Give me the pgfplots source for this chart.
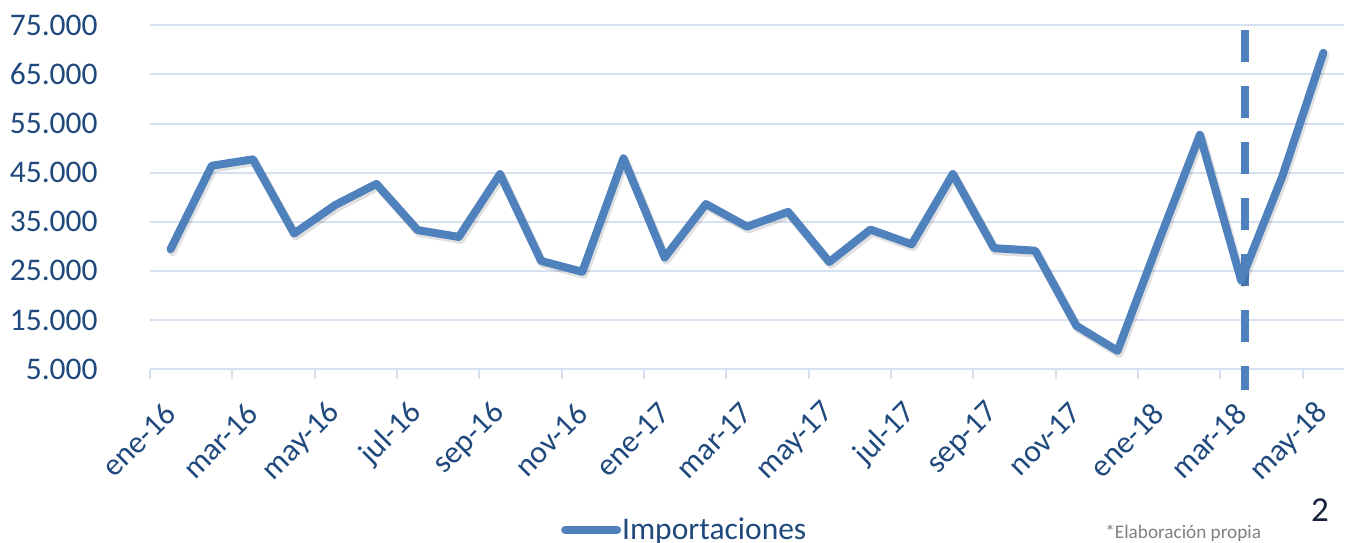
\documentclass[border=0pt]{standalone}
\usepackage{fontspec}
\setmainfont{Carlito}
\usepackage{pgfplots}
\pgfplotsset{compat=1.18}
\definecolor{serie}{HTML}{4F81BD}
\definecolor{gridc}{HTML}{D6E0F0}
\definecolor{lab}{HTML}{1F497D}
\definecolor{navy}{HTML}{17233C}
\newcommand{\lbl}{\fontsize{15.75}{18}\selectfont}
\begin{document}
\begin{tikzpicture}
\path[use as bounding box] (0,0) rectangle (674pt,271pt);
\begin{axis}[
  at={(75pt,86.5pt)}, anchor=south west,
  scale only axis, width=597pt, height=171.85pt,
  xmin=-0.5, xmax=28.5, ymin=5000, ymax=75000,
  clip=false,
  separate axis lines,
  axis x line*=bottom,
  axis y line*=left,
  y axis line style={draw=none},
  x axis line style={gridc, line width=1pt, -},
  ytick={5000,15000,...,75000},
  ymajorgrids, grid style={gridc, line width=1pt},
  major tick length=0pt,
  ytick style={draw=none},
  xtick={0,2,...,28},
  xticklabels={ene-16,mar-16,may-16,jul-16,sep-16,nov-16,ene-17,mar-17,may-17,jul-17,sep-17,nov-17,ene-18,mar-18,may-18},
  major x tick style={draw=none},
  minor xtick={-0.5,1.5,...,27.5},
  minor x tick style={gridc, line width=1pt},
  minor tick length=5pt, tick align=outside,
  xticklabel style={font=\lbl, text=lab, inner sep=0pt, anchor=east, xshift=0pt, yshift=-19.5pt, rotate=45},
  yticklabel style={font=\lbl, text=lab, inner sep=0pt, anchor=east, xshift=-26pt},
  scaled y ticks=false,
  /pgf/number format/fixed,
  /pgf/number format/1000 sep={.},
  /pgf/number format/assume math mode=true,
  legend style={at={(0.344,-0.468)}, anchor=west, draw=none, fill=none, font=\lbl, text=lab, inner sep=0pt, nodes={inner sep=0.5pt}},
  legend image code/.code={\draw[serie, line width=4pt, line cap=round] (0pt,0pt) -- (26pt,0pt);},
]
\addplot[serie, line width=4pt, dash pattern=on 16pt off 12pt, forget plot] coordinates {(26.09,74000) (26.09,730)};
\addplot[draw=black, opacity=0.12, line width=4.5pt, line join=round, line cap=round, xshift=0.8pt, yshift=-1.2pt, forget plot] coordinates {
(0,29400) (1,46400) (2,47700) (3,32600) (4,38400) (5,42700) (6,33300) (7,31900) (8,44700) (9,27000)
(10,24800) (11,47900) (12,27700) (13,38600) (14,34000) (15,37000) (16,26800) (17,33400) (18,30400) (19,44700)
(20,29600) (21,29100) (22,13800) (23,8700) (24,31000) (25,52700) (26,23100) (27,44200) (28,69400)};
\addplot[serie, line width=4pt, line join=round, line cap=round] coordinates {
(0,29400) (1,46400) (2,47700) (3,32600) (4,38400) (5,42700) (6,33300) (7,31900) (8,44700) (9,27000)
(10,24800) (11,47900) (12,27700) (13,38600) (14,34000) (15,37000) (16,26800) (17,33400) (18,30400) (19,44700)
(20,29600) (21,29100) (22,13800) (23,8700) (24,31000) (25,52700) (26,23100) (27,44200) (28,69400)};
\addlegendentry{Importaciones}
\end{axis}
\node[anchor=base, text=navy, font=\fontsize{17.5}{20}\selectfont, inner sep=0pt] at (660pt,10.5pt) {2};
\node[anchor=base west, text=gray, font=\fontsize{9.6}{11}\selectfont, inner sep=0pt] at (552.5pt,2pt) {*Elaboración propia};
\end{tikzpicture}
\end{document}
